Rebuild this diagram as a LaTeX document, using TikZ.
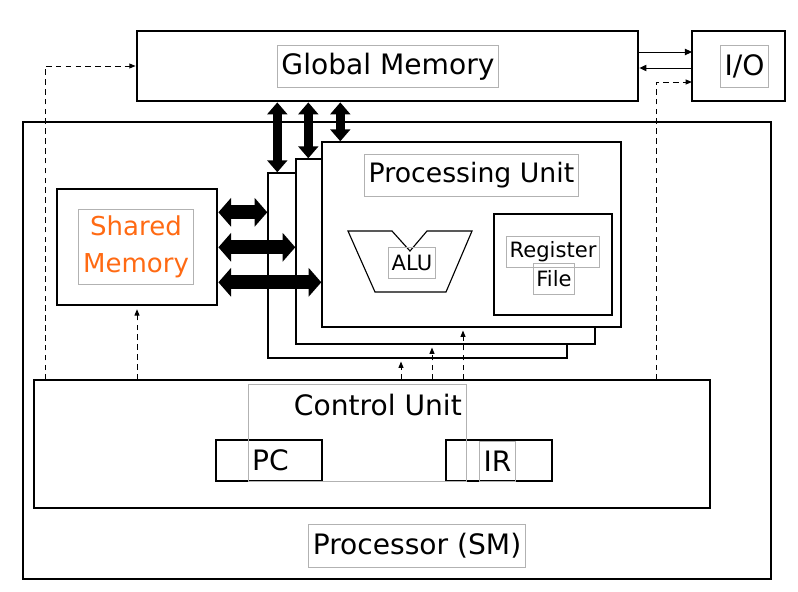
\documentclass[tikz,border=0pt]{standalone}
\usepackage{fontspec}
\setmainfont{DejaVu Sans}
\usetikzlibrary{arrows.meta,fit,calc}
\definecolor{smorange}{HTML}{FF6A13}
\begin{document}
\begin{tikzpicture}[
        x=0.025cm, y=-0.025cm,
        thickbox/.style={draw, line width=2pt, inner sep=0pt},
        thinbox/.style={draw, line width=0.8pt, inner sep=0pt},
        pubox/.style={draw, line width=1pt, fill=white, inner sep=0pt},
        lbl/.style={draw=gray!60, line width=0.6pt, font=\fontsize{20}{24}\selectfont, inner xsep=3pt, inner ysep=0pt, minimum height=30pt},
        lblsm/.style={lbl, font=\fontsize{15}{18}\selectfont, inner xsep=2pt, minimum height=22pt},
        vbus/.style={line width=6.4pt, {Triangle[width=14pt,length=8.5pt]}-{Triangle[width=14pt,length=8.5pt]}},
        hbus/.style={line width=10pt, {Triangle[width=20pt,length=9pt]}-{Triangle[width=20pt,length=9pt]}},
        sig/.style={line width=0.7pt, -{Triangle[width=4.5pt,length=5pt]}},
        ctl/.style={line width=0.7pt, dash pattern=on 4pt off 3pt, -{Triangle[width=3.5pt,length=4.5pt]}, shorten >=2pt}
    ]
        \useasboundingbox (0,0) rectangle (798,592);

        % Khung ngoài và bộ nhớ
        \node [thickbox, fit={(23,122) (771,579)}](SM) {};
        \node [thickbox, fit={(137,31) (638,101)}](GM) {};
        \node [draw, line width=1.2pt, inner sep=0pt, fit={(692,31) (785,101)}](IO) {};
        \node [thickbox, fit={(57,189) (217,305)}](Sh) {};
        \node [lbl] (GMt) at (388,66.5) {Global Memory};
        \node [lbl] (IOt) at (744.5,66.5) {I/O};
        \node [lbl, text=smorange, align=center, inner ysep=4.5pt, font=\fontsize{18.5}{26}\selectfont] (Sht) at (136,247) {Shared\\Memory};

        % Các khối xử lý
        \node [pubox, fit={(268,173) (567,358)}](PU3) {};
        \node [pubox, fit={(296,159) (595,344)}](PU2) {};
        \node [pubox, fit={(322,142) (621,327)}](PU1) {};
        \node [lbl, font=\fontsize{19}{23}\selectfont] (PUt) at (471.5,175.5) {Processing Unit};
        \draw[line width=0.8pt] (348,231) -- (392,231) -- (410,251) -- (427,231) -- (472,231) -- (446,292) -- (375,292) -- cycle;
        \node [lblsm] (ALU) at (412,263) {ALU};
        \node [thinbox, fit={(494,214) (612,315)}](RF) {};
        \node [lblsm] (RFt1) at (553,252) {Register};
        \node [lblsm] (RFt2) at (554,279) {File};

        % Khối điều khiển
        \node [thinbox, fit={(34,380) (710,508)}](CU) {};
        \node [thinbox, fit={(216,440) (322,481)}](PC) {};
        \node [thinbox, fit={(446,440) (552,481)}](IR) {};
        \node [draw=gray!60, line width=0.6pt, inner sep=0pt, fit={(248,384) (466,481)}](CUf) {};
        \node [lbl, draw=none, anchor=north east] (CUt) at (CUf.north east) {Control Unit};
        \node [lbl, draw=none, anchor=west] (PCt) at (CUf.west |- PC.center) {PC};
        \node [lbl, minimum height=28pt] (IRt) at (497.5,461.5) {IR};
        \node [lbl] (SMt) at (417,546) {Processor (SM)};

        % Các đường dữ liệu lớn
        \coordinate (v3) at ($(PU3.north west)+(10,0)$);
        \coordinate (v2) at ($(PU2.north west)+(13,0)$);
        \coordinate (v1) at ($(PU1.north west)+(19,0)$);
        \draw[vbus] (v3 |- GM.south) -- (v3);
        \draw[vbus] (v2 |- GM.south) -- (v2);
        \draw[vbus] (v1 |- GM.south) -- (v1);
        \coordinate (h3) at ($(PU3.north west)+(0,40)$);
        \coordinate (h2) at ($(PU2.north west)+(0,89)$);
        \coordinate (h1) at ($(PU1.north west)+(0,141)$);
        \draw[hbus] (Sh.east |- h3) -- (h3);
        \draw[hbus] (Sh.east |- h2) -- (h2);
        \draw[hbus] (Sh.east |- h1) -- (h1);

        % Thêm các liên kết điều khiển
        \coordinate (io1) at (692,52);
        \coordinate (io2) at (692,68);
        \coordinate (io3) at (692,82);
        \draw[sig] (GM.east |- io1) -- (io1);
        \draw[sig] (io2) -- (GM.east |- io2);
        \coordinate (c1) at (45,380);
        \coordinate (c2) at (656,380);
        \draw[ctl, shorten >=0pt] (c1) |- (GM.west);
        \draw[ctl, shorten >=0pt] (c2) |- (io3);
        \draw[ctl] (Sh.south |- CU.north) -- (Sh.south);
        \coordinate (p3) at (401,380);
        \coordinate (p2) at (432,380);
        \coordinate (p1) at (463,380);
        \draw[ctl] (p3) -- (p3 |- PU3.south);
        \draw[ctl] (p2) -- (p2 |- PU2.south);
        \draw[ctl] (p1) -- (p1 |- PU1.south);
    \end{tikzpicture}
\end{document}
